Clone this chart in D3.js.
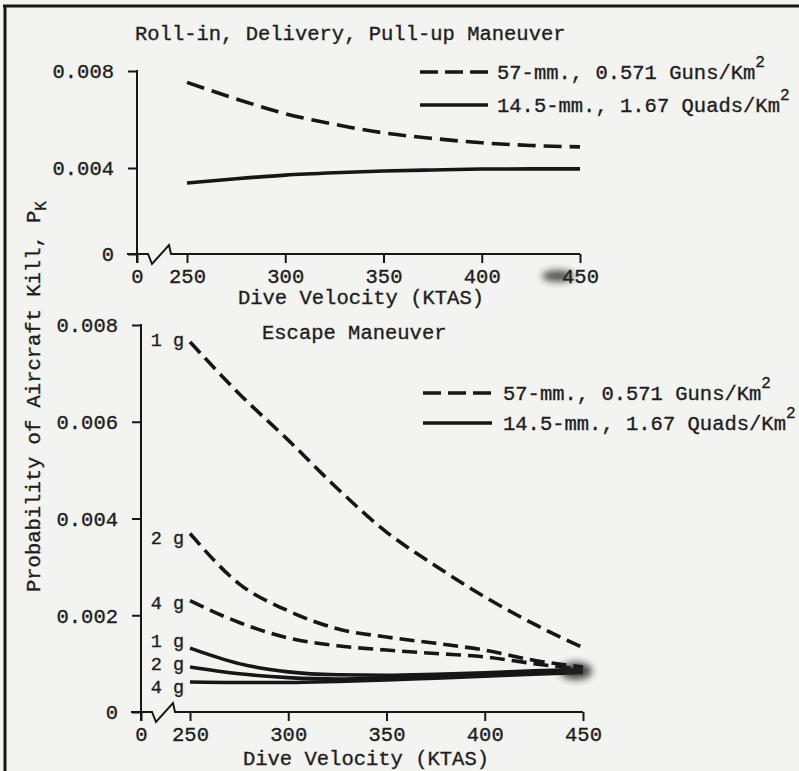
<!DOCTYPE html>
<html>
<head>
<meta charset="utf-8">
<script src="https://cdn.jsdelivr.net/npm/d3@7/dist/d3.min.js"></script>
<style>
  html, body { margin: 0; padding: 0; background: #f3f3f1; }
  svg { display: block; }
  text { font-family: "Liberation Mono", "DejaVu Sans Mono", monospace; fill: #1e1e1e;
         stroke: #1e1e1e; stroke-width: 0.35px; }
</style>
</head>
<body>
<svg id="chart" width="799" height="771"></svg>
<script>
// ---------------- data ----------------
const velocity = [250, 275, 300, 325, 350, 375, 400, 425, 450];

// Roll-in, Delivery, Pull-up Maneuver (P_K)
const roll57 = [0.00753, 0.00685, 0.00624, 0.00580, 0.00545, 0.00522, 0.00504, 0.00493, 0.00487];
const roll145 = [0.00330, 0.00350, 0.00367, 0.00378, 0.00386, 0.00391, 0.00395, 0.00396, 0.00396];

// Escape Maneuver (P_K)
const esc57_1g = [0.00765, 0.00658, 0.00562, 0.00462, 0.00372, 0.00302, 0.00238, 0.00182, 0.00133];
const esc57_2g = [0.00369, 0.00265, 0.00209, 0.00172, 0.00155, 0.00142, 0.00128, 0.00107, 0.00093];
const esc57_4g = [0.00230, 0.00185, 0.00153, 0.00137, 0.00128, 0.00121, 0.00114, 0.00100, 0.00088];
const esc145_1g = [0.00132, 0.00100, 0.00083, 0.00077, 0.00076, 0.00078, 0.00081, 0.00085, 0.00088];
const esc145_2g = [0.00093, 0.00079, 0.00071, 0.00068, 0.00070, 0.00073, 0.00077, 0.00080, 0.00084];
const esc145_4g = [0.00062, 0.00061, 0.00061, 0.00063, 0.00066, 0.00070, 0.00074, 0.00078, 0.00082];

const xTicks = [0, 250, 300, 350, 400, 450];
const yTicksTop = [0, 0.004, 0.008];
const yTicksBottom = [0, 0.002, 0.004, 0.006, 0.008];

const titleTop = "Roll-in, Delivery, Pull-up Maneuver";
const titleBottom = "Escape Maneuver";
const xTitle = "Dive Velocity (KTAS)";
const yTitle = "Probability of Aircraft Kill, P";
const legendLabels = ["57-mm., 0.571 Guns/Km", "14.5-mm., 1.67 Quads/Km"];
const gLabels = ["1 g", "2 g", "4 g"];

// ---------------- drawing ----------------
const svg = d3.select("#chart");
const INK = "#161616";

// scan frame (top and left edges)
svg.append("line").attr("x1", 3).attr("x2", 799).attr("y1", 6).attr("y2", 6)
  .attr("stroke", INK).attr("stroke-width", 3);
svg.append("line").attr("x1", 5).attr("x2", 5).attr("y1", 5).attr("y2", 771)
  .attr("stroke", INK).attr("stroke-width", 3);

const defs = svg.append("defs");
defs.append("filter").attr("id", "blur").attr("x", "-50%").attr("y", "-50%")
  .attr("width", "200%").attr("height", "200%")
  .append("feGaussianBlur").attr("stdDeviation", 3.5);

const fmt = d => d === 0 ? "0" : d3.format(".3f")(d);
const FS = 20.5;

function panel(cfg) {
  const g = svg.append("g");
  const x = d3.scaleLinear().domain([0, 250, 450]).range(cfg.xRange);
  const y = d3.scaleLinear().domain(cfg.yDomain).range(cfg.yRange);
  const y0 = y(0);
  const xAxisX = x(0);

  // y axis
  const ya = d3.axisLeft(y).tickValues(cfg.yTicks).tickSize(9).tickPadding(14).tickFormat(fmt);
  const yg = g.append("g").attr("transform", `translate(${xAxisX},0)`).call(ya);
  yg.select(".domain").remove();
  yg.selectAll(".tick line").attr("stroke", INK).attr("stroke-width", 2);
  yg.selectAll(".tick text").attr("font-size", FS).attr("font-family", "Liberation Mono")
    .attr("fill", "#1e1e1e").attr("dy", "0.33em");
  g.append("line").attr("x1", xAxisX).attr("x2", xAxisX)
    .attr("y1", y(cfg.yDomain[cfg.yDomain.length - 1]) - 1).attr("y2", y0 + 9)
    .attr("stroke", INK).attr("stroke-width", 2);

  // x axis
  const xa = d3.axisBottom(x).tickValues(xTicks).tickSize(9).tickPadding(5).tickFormat(d3.format("d"));
  const xg = g.append("g").attr("transform", `translate(0,${y0})`).call(xa);
  xg.select(".domain").remove();
  xg.selectAll(".tick line").attr("stroke", INK).attr("stroke-width", 2);
  xg.selectAll(".tick text").attr("font-size", FS).attr("font-family", "Liberation Mono")
    .attr("fill", "#1e1e1e");
  // axis line with break
  const b = xAxisX + 11;
  const axisPath = d3.path();
  axisPath.moveTo(xAxisX - 10, y0);
  axisPath.lineTo(b, y0);
  axisPath.lineTo(b + 4, y0 + 10);
  axisPath.lineTo(b + 21, y0 - 9);
  axisPath.lineTo(b + 23, y0);
  axisPath.lineTo(x(450), y0);
  g.append("path").attr("d", axisPath.toString()).attr("fill", "none")
    .attr("stroke", INK).attr("stroke-width", 2);

  // titles
  g.append("text").attr("x", cfg.titleX).attr("y", cfg.titleY).attr("font-size", FS).text(cfg.title);
  g.append("text").attr("x", cfg.xTitleX).attr("y", cfg.xTitleY).attr("text-anchor", "middle")
    .attr("font-size", FS).text(xTitle);

  // series
  const line = d3.line().x((d, i) => x(velocity[i])).y(d => y(d)).curve(d3.curveMonotoneX);
  cfg.series.forEach(s => {
    g.append("path").datum(s.values).attr("d", line).attr("fill", "none")
      .attr("stroke", INK).attr("stroke-width", 3.6)
      .attr("stroke-linecap", "butt")
      .attr("stroke-dasharray", s.dashed ? cfg.dash : null);
    if (s.label) {
      g.append("text").attr("x", x(250) - 6).attr("y", y(s.values[0]) + s.dy)
        .attr("text-anchor", "end").attr("font-size", 18.5).text(s.label);
    }
  });

  // legend
  cfg.legend.forEach((L, i) => {
    g.append("line").attr("x1", L.x1).attr("x2", L.x2).attr("y1", L.y).attr("y2", L.y)
      .attr("stroke", INK).attr("stroke-width", 3.6)
      .attr("stroke-dasharray", L.dashed ? "18,7" : null);
    const t = g.append("text").attr("x", L.tx).attr("y", L.y + 7).attr("font-size", 20.5);
    t.append("tspan").text(legendLabels[i]);
    t.append("tspan").attr("dy", -12).attr("font-size", 16).text("2");
  });

  if (cfg.smudges) {
    cfg.smudges.forEach(m => {
      g.append("ellipse").attr("cx", m.cx).attr("cy", m.cy).attr("rx", m.rx).attr("ry", m.ry)
        .attr("fill", "#222").attr("opacity", m.o).attr("filter", "url(#blur)");
    });
  }
  return { x, y };
}

const topPanel = panel({
  xRange: [137, 187, 580],
  yDomain: [0, 0.004, 0.008], yRange: [254, 168, 71],
  yTicks: yTicksTop,
  title: titleTop, titleX: 135, titleY: 40,
  xTitleX: 361, xTitleY: 304,
  dash: "18,8",
  series: [
    { values: roll57, dashed: true },
    { values: roll145, dashed: false }
  ],
  legend: [
    { x1: 420, x2: 488, y: 72, tx: 497, dashed: true },
    { x1: 420, x2: 488, y: 105, tx: 497, dashed: false }
  ],
  smudges: [{ cx: 558, cy: 276, rx: 16, ry: 6, o: 0.75 }]
});

const bottomPanel = panel({
  xRange: [141, 190, 583],
  yDomain: [0, 0.008], yRange: [712, 325],
  yTicks: yTicksBottom,
  title: titleBottom, titleX: 262, titleY: 339,
  xTitleX: 366, xTitleY: 765,
  dash: "15,7",
  series: [
    { values: esc57_1g, dashed: true, label: gLabels[0], dy: 4 },
    { values: esc57_2g, dashed: true, label: gLabels[1], dy: 11 },
    { values: esc57_4g, dashed: true, label: gLabels[2], dy: 8 },
    { values: esc145_1g, dashed: false, label: gLabels[0], dy: -1 },
    { values: esc145_2g, dashed: false, label: gLabels[1], dy: 3 },
    { values: esc145_4g, dashed: false, label: gLabels[2], dy: 11 }
  ],
  legend: [
    { x1: 423, x2: 492, y: 393, tx: 503, dashed: true },
    { x1: 423, x2: 492, y: 423, tx: 503, dashed: false }
  ],
  smudges: [{ cx: 576, cy: 671, rx: 16, ry: 9, o: 0.8 }]
});

// y-axis title (shared)
const yt = svg.append("text").attr("transform", "translate(40,592) rotate(-90)")
  .attr("font-size", FS);
yt.append("tspan").text(yTitle);
yt.append("tspan").attr("dy", 6).attr("font-size", 16).text("K");
</script>
</body>
</html>
